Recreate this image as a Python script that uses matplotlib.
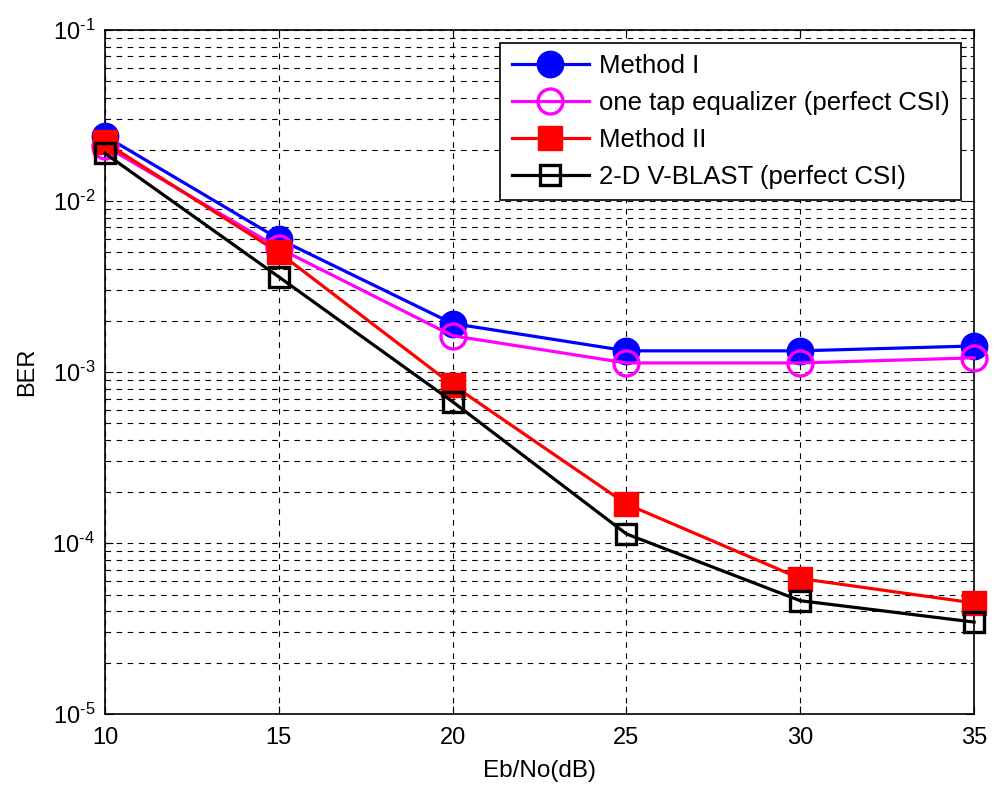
import matplotlib
matplotlib.use("Agg")
import matplotlib.pyplot as plt
import numpy as np
from matplotlib.ticker import LogLocator, FixedLocator, NullFormatter, FuncFormatter

plt.rcParams['font.family'] = ['Liberation Sans', 'DejaVu Sans']
plt.rcParams['mathtext.fontset'] = 'custom'
plt.rcParams['mathtext.rm'] = 'Liberation Sans'
plt.rcParams['mathtext.it'] = 'Liberation Sans'

# Data
ebno = [10, 15, 20, 25, 30, 35]
ber_method1 = [0.024, 0.0060, 0.00192, 0.00133, 0.00133, 0.00142]
ber_onetap = [0.021, 0.0053, 0.00163, 0.00113, 0.00113, 0.00121]
ber_method2 = [0.022, 0.0050, 0.00084, 0.000169, 0.000062, 0.0000446]
ber_vblast = [0.019, 0.0036, 0.00067, 0.000113, 0.000046, 0.0000345]

labels = ["Method I", "one tap equalizer (perfect CSI)", "Method II",
          "2-D V-BLAST (perfect CSI)"]

fig = plt.figure(figsize=(9.95, 7.89), dpi=100)
ax = fig.add_axes([0.1055, 0.095, 0.8735, 0.867])

lw = 2.3
ax.semilogy(ebno, ber_method1, '-o', color='blue', lw=lw, ms=19,
            mfc='blue', mec='blue', label=labels[0], clip_on=False, zorder=3)
ax.semilogy(ebno, ber_onetap, '-o', color='magenta', lw=lw, ms=18,
            mfc='none', mec='magenta', mew=2.4, label=labels[1], clip_on=False, zorder=4)
ax.semilogy(ebno, ber_method2, '-s', color='red', lw=lw, ms=17,
            mfc='red', mec='red', label=labels[2], clip_on=False, zorder=5)
ax.semilogy(ebno, ber_vblast, '-s', color='black', lw=lw, ms=15,
            mfc='none', mec='black', mew=2.4, label=labels[3], clip_on=False, zorder=6)

ax.set_xlim(10, 35)
ax.set_ylim(1e-5, 1e-1)
ax.xaxis.set_major_locator(FixedLocator(ebno))
ax.yaxis.set_major_locator(LogLocator(base=10, numticks=10))
ax.yaxis.set_major_formatter(FuncFormatter(
    lambda v, p: r'$10^{\text{-%d}}$' % abs(int(round(np.log10(v))))))
ax.yaxis.set_minor_locator(LogLocator(base=10, subs=np.arange(2, 10), numticks=20))
ax.yaxis.set_minor_formatter(NullFormatter())

ax.grid(True, which='major', axis='both', ls=(0, (5, 5)), color='black', lw=0.8)
ax.grid(True, which='minor', axis='y', ls=(0, (5, 5)), color='black', lw=0.8)
ax.set_axisbelow(True)

ax.tick_params(which='both', direction='in', top=True, right=True, labelsize=17)
ax.tick_params(axis='x', pad=9)
ax.tick_params(axis='y', pad=7)
ax.tick_params(which='major', length=6)
ax.tick_params(which='minor', length=3)
for s in ax.spines.values():
    s.set_linewidth(1.2)

ax.set_xlabel("Eb/No(dB)", fontsize=17.5, labelpad=8)
ax.set_ylabel("BER", fontsize=17, labelpad=10)

leg = ax.legend(loc='upper right', fontsize=18.5, frameon=True, fancybox=False,
                edgecolor='black', framealpha=1, handlelength=3.0,
                handletextpad=0.4, borderaxespad=0.5, labelspacing=0.5,
                borderpad=0.45)
leg.get_frame().set_linewidth(1.2)

fig.savefig("out.png", dpi=100)
